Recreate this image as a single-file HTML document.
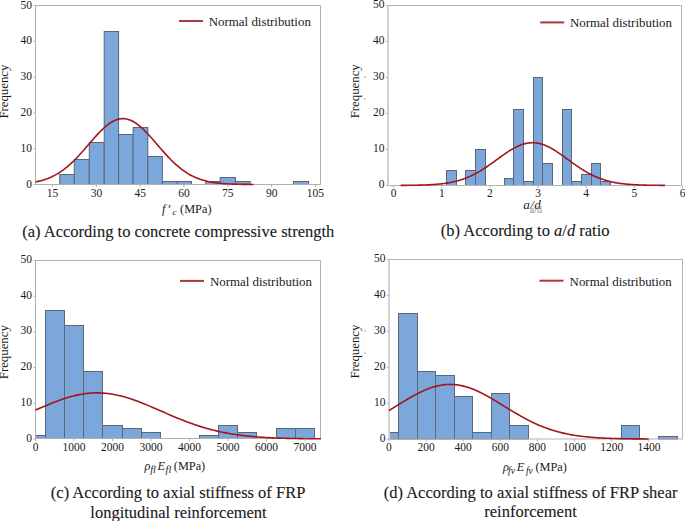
<!DOCTYPE html>
<html><head><meta charset="utf-8"><style>
html,body{margin:0;padding:0;background:#fff;}
body{width:685px;height:521px;overflow:hidden;}
svg{display:block;}
text{font-family:"Liberation Serif", serif;fill:#1a1a1a;}
.cap{stroke:#1a1a1a;stroke-width:0.12px;}
</style></head><body>
<svg width="685" height="521" viewBox="0 0 685 521">
<rect width="685" height="521" fill="#fff"/>
<rect x="59.70" y="174.50" width="14.60" height="10.00" fill="#7ba7da" stroke="#5a6679" stroke-width="1"/>
<rect x="74.30" y="159.50" width="15.00" height="25.00" fill="#7ba7da" stroke="#5a6679" stroke-width="1"/>
<rect x="89.30" y="142.50" width="14.90" height="42.00" fill="#7ba7da" stroke="#5a6679" stroke-width="1"/>
<rect x="104.20" y="31.50" width="14.40" height="153.00" fill="#7ba7da" stroke="#5a6679" stroke-width="1"/>
<rect x="118.60" y="134.50" width="14.50" height="50.00" fill="#7ba7da" stroke="#5a6679" stroke-width="1"/>
<rect x="133.10" y="127.50" width="14.75" height="57.00" fill="#7ba7da" stroke="#5a6679" stroke-width="1"/>
<rect x="147.85" y="156.50" width="14.55" height="28.00" fill="#7ba7da" stroke="#5a6679" stroke-width="1"/>
<rect x="162.40" y="181.50" width="15.00" height="3.00" fill="#7ba7da" stroke="#5a6679" stroke-width="1"/>
<rect x="177.40" y="181.50" width="14.00" height="3.00" fill="#7ba7da" stroke="#5a6679" stroke-width="1"/>
<rect x="205.80" y="181.50" width="14.40" height="3.00" fill="#7ba7da" stroke="#5a6679" stroke-width="1"/>
<rect x="220.20" y="177.50" width="15.30" height="7.00" fill="#7ba7da" stroke="#5a6679" stroke-width="1"/>
<rect x="235.50" y="181.50" width="14.70" height="3.00" fill="#7ba7da" stroke="#5a6679" stroke-width="1"/>
<rect x="293.40" y="181.50" width="15.20" height="3.00" fill="#7ba7da" stroke="#5a6679" stroke-width="1"/>
<path d="M35.5,5.5H320.5V184.5H35.5" fill="none" stroke="#b0b0b0" stroke-width="1"/>
<line x1="35.5" y1="5.5" x2="35.5" y2="184.5" stroke="#b0b0b0" stroke-width="1"/>
<polyline points="35.50,181.92 36.41,181.74 37.32,181.55 38.23,181.35 39.13,181.14 40.04,180.92 40.95,180.69 41.86,180.44 42.77,180.18 43.67,179.91 44.58,179.62 45.49,179.32 46.40,179.00 47.31,178.67 48.22,178.32 49.12,177.95 50.03,177.57 50.94,177.18 51.85,176.76 52.76,176.33 53.67,175.88 54.57,175.41 55.48,174.92 56.39,174.41 57.30,173.89 58.21,173.34 59.12,172.77 60.03,172.19 60.93,171.58 61.84,170.95 62.75,170.30 63.66,169.63 64.57,168.95 65.47,168.24 66.38,167.51 67.29,166.76 68.20,165.98 69.11,165.19 70.02,164.38 70.92,163.55 71.83,162.71 72.74,161.84 73.65,160.95 74.56,160.05 75.47,159.13 76.38,158.20 77.28,157.25 78.19,156.28 79.10,155.30 80.01,154.31 80.92,153.31 81.83,152.29 82.73,151.27 83.64,150.23 84.55,149.19 85.46,148.15 86.37,147.10 87.28,146.04 88.18,144.98 89.09,143.93 90.00,142.87 90.91,141.82 91.82,140.77 92.72,139.72 93.63,138.69 94.54,137.66 95.45,136.64 96.36,135.63 97.27,134.64 98.18,133.66 99.08,132.70 99.99,131.76 100.90,130.84 101.81,129.95 102.72,129.07 103.62,128.22 104.53,127.40 105.44,126.61 106.35,125.84 107.26,125.11 108.17,124.41 109.08,123.75 109.98,123.12 110.89,122.53 111.80,121.98 112.71,121.46 113.62,120.99 114.53,120.55 115.43,120.16 116.34,119.82 117.25,119.51 118.16,119.25 119.07,119.04 119.98,118.87 120.88,118.74 121.79,118.67 122.70,118.63 123.61,118.65 124.52,118.71 125.42,118.81 126.33,118.96 127.24,119.16 128.15,119.40 129.06,119.69 129.97,120.02 130.88,120.40 131.78,120.81 132.69,121.27 133.60,121.77 134.51,122.31 135.42,122.88 136.32,123.50 137.23,124.15 138.14,124.83 139.05,125.55 139.96,126.30 140.87,127.08 141.77,127.89 142.68,128.73 143.59,129.60 144.50,130.49 145.41,131.40 146.32,132.33 147.22,133.28 148.13,134.25 149.04,135.24 149.95,136.24 150.86,137.25 151.77,138.28 152.67,139.31 153.58,140.35 154.49,141.40 155.40,142.45 156.31,143.51 157.22,144.57 158.12,145.62 159.03,146.68 159.94,147.73 160.85,148.78 161.76,149.82 162.67,150.86 163.57,151.89 164.48,152.91 165.39,153.91 166.30,154.91 167.21,155.90 168.12,156.87 169.03,157.82 169.93,158.76 170.84,159.69 171.75,160.60 172.66,161.49 173.57,162.37 174.47,163.22 175.38,164.06 176.29,164.88 177.20,165.67 178.11,166.45 179.02,167.21 179.93,167.95 180.83,168.67 181.74,169.37 182.65,170.04 183.56,170.70 184.47,171.33 185.38,171.95 186.28,172.54 187.19,173.12 188.10,173.67 189.01,174.21 189.92,174.72 190.83,175.22 191.73,175.69 192.64,176.15 193.55,176.59 194.46,177.01 195.37,177.42 196.27,177.81 197.18,178.18 198.09,178.53 199.00,178.87 199.91,179.19 200.82,179.50 201.72,179.79 202.63,180.07 203.54,180.34 204.45,180.59 205.36,180.83 206.27,181.06 207.17,181.27 208.08,181.48 208.99,181.67 209.90,181.85 210.81,182.03 211.72,182.19 212.62,182.34 213.53,182.49 214.44,182.62 215.35,182.75 216.26,182.87 217.17,182.99 218.07,183.09 218.98,183.19 219.89,183.29 220.80,183.38 221.71,183.46 222.62,183.53 223.53,183.61 224.43,183.67 225.34,183.74 226.25,183.79 227.16,183.85 228.07,183.90 228.97,183.95 229.88,183.99 230.79,184.03 231.70,184.07 232.61,184.10 233.52,184.14 234.43,184.16 235.33,184.19 236.24,184.22 237.15,184.24 238.06,184.26 238.97,184.28 239.88,184.30 240.78,184.32 241.69,184.34 242.60,184.35 243.51,184.36 244.42,184.38 245.33,184.39 246.23,184.40 247.14,184.41 248.05,184.41 248.96,184.42 249.87,184.43 250.78,184.44 251.68,184.44 252.59,184.45 253.50,184.45" fill="none" stroke="#a2161d" stroke-width="1.6" stroke-linejoin="round"/>
<line x1="52.60" y1="184.5" x2="52.60" y2="187.0" stroke="#b0b0b0" stroke-width="1"/>
<text x="52.60" y="196.5" text-anchor="middle" font-size="11.5" fill="#1a1a1a">15</text>
<line x1="96.41" y1="184.5" x2="96.41" y2="187.0" stroke="#b0b0b0" stroke-width="1"/>
<text x="96.41" y="196.5" text-anchor="middle" font-size="11.5" fill="#1a1a1a">30</text>
<line x1="140.23" y1="184.5" x2="140.23" y2="187.0" stroke="#b0b0b0" stroke-width="1"/>
<text x="140.23" y="196.5" text-anchor="middle" font-size="11.5" fill="#1a1a1a">45</text>
<line x1="184.04" y1="184.5" x2="184.04" y2="187.0" stroke="#b0b0b0" stroke-width="1"/>
<text x="184.04" y="196.5" text-anchor="middle" font-size="11.5" fill="#1a1a1a">60</text>
<line x1="227.86" y1="184.5" x2="227.86" y2="187.0" stroke="#b0b0b0" stroke-width="1"/>
<text x="227.86" y="196.5" text-anchor="middle" font-size="11.5" fill="#1a1a1a">75</text>
<line x1="271.68" y1="184.5" x2="271.68" y2="187.0" stroke="#b0b0b0" stroke-width="1"/>
<text x="271.68" y="196.5" text-anchor="middle" font-size="11.5" fill="#1a1a1a">90</text>
<line x1="315.49" y1="184.5" x2="315.49" y2="187.0" stroke="#b0b0b0" stroke-width="1"/>
<text x="315.49" y="196.5" text-anchor="middle" font-size="11.5" fill="#1a1a1a">105</text>
<line x1="33.5" y1="184.50" x2="35.5" y2="184.50" stroke="#b0b0b0" stroke-width="1"/>
<text x="32.1" y="187.50" text-anchor="end" font-size="11.5" fill="#1a1a1a">0</text>
<line x1="33.5" y1="148.70" x2="35.5" y2="148.70" stroke="#b0b0b0" stroke-width="1"/>
<text x="32.1" y="151.70" text-anchor="end" font-size="11.5" fill="#1a1a1a">10</text>
<line x1="33.5" y1="112.90" x2="35.5" y2="112.90" stroke="#b0b0b0" stroke-width="1"/>
<text x="32.1" y="115.90" text-anchor="end" font-size="11.5" fill="#1a1a1a">20</text>
<line x1="33.5" y1="77.10" x2="35.5" y2="77.10" stroke="#b0b0b0" stroke-width="1"/>
<text x="32.1" y="80.10" text-anchor="end" font-size="11.5" fill="#1a1a1a">30</text>
<line x1="33.5" y1="41.30" x2="35.5" y2="41.30" stroke="#b0b0b0" stroke-width="1"/>
<text x="32.1" y="44.30" text-anchor="end" font-size="11.5" fill="#1a1a1a">40</text>
<line x1="33.5" y1="5.50" x2="35.5" y2="5.50" stroke="#b0b0b0" stroke-width="1"/>
<text x="32.1" y="8.50" text-anchor="end" font-size="11.5" fill="#1a1a1a">50</text>
<line x1="179.0" y1="21.0" x2="203.0" y2="21.0" stroke="#a63a3e" stroke-width="2"/>
<text x="208.8" y="26.0" font-size="12.9">Normal distribution</text>
<text transform="translate(7.7,91.6) rotate(-90)" text-anchor="middle" font-size="12.8">Frequency</text>
<rect x="446.50" y="170.50" width="10.00" height="15.00" fill="#7ba7da" stroke="#5a6679" stroke-width="1"/>
<rect x="465.50" y="170.50" width="10.00" height="15.00" fill="#7ba7da" stroke="#5a6679" stroke-width="1"/>
<rect x="475.50" y="149.50" width="10.00" height="36.00" fill="#7ba7da" stroke="#5a6679" stroke-width="1"/>
<rect x="504.50" y="178.50" width="9.00" height="7.00" fill="#7ba7da" stroke="#5a6679" stroke-width="1"/>
<rect x="513.50" y="109.50" width="10.00" height="76.00" fill="#7ba7da" stroke="#5a6679" stroke-width="1"/>
<rect x="523.50" y="181.50" width="10.00" height="4.00" fill="#7ba7da" stroke="#5a6679" stroke-width="1"/>
<rect x="533.50" y="77.50" width="9.00" height="108.00" fill="#7ba7da" stroke="#5a6679" stroke-width="1"/>
<rect x="542.50" y="163.50" width="10.00" height="22.00" fill="#7ba7da" stroke="#5a6679" stroke-width="1"/>
<rect x="562.50" y="109.50" width="9.00" height="76.00" fill="#7ba7da" stroke="#5a6679" stroke-width="1"/>
<rect x="571.50" y="181.50" width="10.00" height="4.00" fill="#7ba7da" stroke="#5a6679" stroke-width="1"/>
<rect x="581.50" y="174.50" width="10.00" height="11.00" fill="#7ba7da" stroke="#5a6679" stroke-width="1"/>
<rect x="591.50" y="163.50" width="9.00" height="22.00" fill="#7ba7da" stroke="#5a6679" stroke-width="1"/>
<rect x="600.50" y="181.50" width="10.00" height="4.00" fill="#7ba7da" stroke="#5a6679" stroke-width="1"/>
<path d="M388,5.5H681.5V185.5H388" fill="none" stroke="#b4b4b4" stroke-width="1"/>
<line x1="388" y1="5.5" x2="388" y2="185.5" stroke="#d2d2d2" stroke-width="2"/>
<polyline points="400.60,185.36 401.70,185.35 402.80,185.35 403.91,185.34 405.01,185.33 406.11,185.33 407.21,185.32 408.31,185.31 409.41,185.30 410.52,185.29 411.62,185.27 412.72,185.26 413.82,185.24 414.92,185.23 416.02,185.21 417.12,185.19 418.23,185.16 419.33,185.14 420.43,185.11 421.53,185.08 422.63,185.05 423.74,185.01 424.84,184.98 425.94,184.93 427.04,184.89 428.14,184.84 429.24,184.79 430.35,184.73 431.45,184.67 432.55,184.60 433.65,184.53 434.75,184.45 435.85,184.36 436.96,184.27 438.06,184.17 439.16,184.07 440.26,183.95 441.36,183.83 442.46,183.70 443.56,183.56 444.67,183.42 445.77,183.26 446.87,183.09 447.97,182.91 449.07,182.72 450.18,182.52 451.28,182.31 452.38,182.08 453.48,181.84 454.58,181.58 455.68,181.32 456.79,181.03 457.89,180.74 458.99,180.42 460.09,180.10 461.19,179.75 462.29,179.39 463.39,179.01 464.50,178.62 465.60,178.20 466.70,177.77 467.80,177.32 468.90,176.85 470.00,176.37 471.11,175.86 472.21,175.34 473.31,174.80 474.41,174.24 475.51,173.66 476.62,173.07 477.72,172.46 478.82,171.83 479.92,171.18 481.02,170.52 482.12,169.84 483.23,169.14 484.33,168.43 485.43,167.71 486.53,166.97 487.63,166.22 488.73,165.46 489.84,164.69 490.94,163.92 492.04,163.13 493.14,162.34 494.24,161.54 495.34,160.74 496.44,159.93 497.55,159.13 498.65,158.32 499.75,157.52 500.85,156.73 501.95,155.93 503.06,155.15 504.16,154.37 505.26,153.61 506.36,152.86 507.46,152.12 508.56,151.40 509.67,150.69 510.77,150.01 511.87,149.35 512.97,148.71 514.07,148.09 515.17,147.50 516.27,146.94 517.38,146.41 518.48,145.91 519.58,145.44 520.68,145.01 521.78,144.61 522.88,144.24 523.99,143.92 525.09,143.63 526.19,143.38 527.29,143.17 528.39,142.99 529.50,142.86 530.60,142.77 531.70,142.72 532.80,142.71 533.90,142.75 535.00,142.82 536.11,142.94 537.21,143.09 538.31,143.29 539.41,143.52 540.51,143.80 541.61,144.11 542.72,144.46 543.82,144.85 544.92,145.27 546.02,145.72 547.12,146.21 548.22,146.73 549.33,147.28 550.43,147.86 551.53,148.46 552.63,149.09 553.73,149.75 554.83,150.42 555.94,151.12 557.04,151.83 558.14,152.57 559.24,153.31 560.34,154.07 561.44,154.84 562.55,155.63 563.65,156.41 564.75,157.21 565.85,158.01 566.95,158.81 568.05,159.62 569.15,160.42 570.26,161.23 571.36,162.03 572.46,162.82 573.56,163.61 574.66,164.39 575.76,165.16 576.87,165.93 577.97,166.68 579.07,167.42 580.17,168.15 581.27,168.87 582.38,169.57 583.48,170.25 584.58,170.92 585.68,171.58 586.78,172.21 587.88,172.83 588.99,173.43 590.09,174.02 591.19,174.58 592.29,175.13 593.39,175.66 594.49,176.17 595.60,176.67 596.70,177.14 597.80,177.60 598.90,178.04 600.00,178.46 601.10,178.86 602.21,179.24 603.31,179.61 604.41,179.96 605.51,180.30 606.61,180.62 607.71,180.92 608.82,181.21 609.92,181.48 611.02,181.74 612.12,181.99 613.22,182.22 614.32,182.44 615.42,182.64 616.53,182.84 617.63,183.02 618.73,183.19 619.83,183.36 620.93,183.51 622.03,183.65 623.14,183.78 624.24,183.91 625.34,184.02 626.44,184.13 627.54,184.23 628.64,184.33 629.75,184.41 630.85,184.49 631.95,184.57 633.05,184.64 634.15,184.70 635.25,184.76 636.36,184.82 637.46,184.87 638.56,184.92 639.66,184.96 640.76,185.00 641.87,185.04 642.97,185.07 644.07,185.10 645.17,185.13 646.27,185.15 647.37,185.18 648.48,185.20 649.58,185.22 650.68,185.24 651.78,185.25 652.88,185.27 653.98,185.28 655.09,185.29 656.19,185.30 657.29,185.31 658.39,185.32 659.49,185.33 660.59,185.34 661.69,185.34 662.80,185.35 663.90,185.36 665.00,185.36" fill="none" stroke="#a2161d" stroke-width="1.6" stroke-linejoin="round"/>
<line x1="393.60" y1="185.5" x2="393.60" y2="188.0" stroke="#b4b4b4" stroke-width="1"/>
<text x="393.60" y="197" text-anchor="middle" font-size="11.5" fill="#262626">0</text>
<line x1="441.75" y1="185.5" x2="441.75" y2="188.0" stroke="#b4b4b4" stroke-width="1"/>
<text x="441.75" y="197" text-anchor="middle" font-size="11.5" fill="#262626">1</text>
<line x1="489.90" y1="185.5" x2="489.90" y2="188.0" stroke="#b4b4b4" stroke-width="1"/>
<text x="489.90" y="197" text-anchor="middle" font-size="11.5" fill="#262626">2</text>
<line x1="538.05" y1="185.5" x2="538.05" y2="188.0" stroke="#b4b4b4" stroke-width="1"/>
<text x="538.05" y="197" text-anchor="middle" font-size="11.5" fill="#262626">3</text>
<line x1="586.20" y1="185.5" x2="586.20" y2="188.0" stroke="#b4b4b4" stroke-width="1"/>
<text x="586.20" y="197" text-anchor="middle" font-size="11.5" fill="#262626">4</text>
<line x1="634.35" y1="185.5" x2="634.35" y2="188.0" stroke="#b4b4b4" stroke-width="1"/>
<text x="634.35" y="197" text-anchor="middle" font-size="11.5" fill="#262626">5</text>
<line x1="682.50" y1="185.5" x2="682.50" y2="188.0" stroke="#b4b4b4" stroke-width="1"/>
<text x="682.50" y="197" text-anchor="middle" font-size="11.5" fill="#262626">6</text>
<line x1="386" y1="185.40" x2="388" y2="185.40" stroke="#b4b4b4" stroke-width="1"/>
<text x="384.6" y="187.70" text-anchor="end" font-size="11.5" fill="#262626">0</text>
<line x1="386" y1="149.44" x2="388" y2="149.44" stroke="#b4b4b4" stroke-width="1"/>
<text x="384.6" y="151.74" text-anchor="end" font-size="11.5" fill="#262626">10</text>
<line x1="386" y1="113.48" x2="388" y2="113.48" stroke="#b4b4b4" stroke-width="1"/>
<text x="384.6" y="115.78" text-anchor="end" font-size="11.5" fill="#262626">20</text>
<line x1="386" y1="77.52" x2="388" y2="77.52" stroke="#b4b4b4" stroke-width="1"/>
<text x="384.6" y="79.82" text-anchor="end" font-size="11.5" fill="#262626">30</text>
<line x1="386" y1="41.56" x2="388" y2="41.56" stroke="#b4b4b4" stroke-width="1"/>
<text x="384.6" y="43.86" text-anchor="end" font-size="11.5" fill="#262626">40</text>
<line x1="386" y1="5.60" x2="388" y2="5.60" stroke="#b4b4b4" stroke-width="1"/>
<text x="384.6" y="7.90" text-anchor="end" font-size="11.5" fill="#262626">50</text>
<line x1="540.2" y1="22.4" x2="564.2" y2="22.4" stroke="#a63a3e" stroke-width="2"/>
<text x="569.9" y="26.7" font-size="12.9">Normal distribution</text>
<text transform="translate(359.4,91.3) rotate(-90)" text-anchor="middle" font-size="12.8">Frequency</text>
<rect x="35.50" y="435.50" width="10.00" height="3.00" fill="#7ba7da" stroke="#5a6679" stroke-width="1"/>
<rect x="45.50" y="310.50" width="19.00" height="128.00" fill="#7ba7da" stroke="#5a6679" stroke-width="1"/>
<rect x="64.50" y="325.50" width="19.00" height="113.00" fill="#7ba7da" stroke="#5a6679" stroke-width="1"/>
<rect x="83.50" y="371.50" width="19.00" height="67.00" fill="#7ba7da" stroke="#5a6679" stroke-width="1"/>
<rect x="102.50" y="425.50" width="20.00" height="13.00" fill="#7ba7da" stroke="#5a6679" stroke-width="1"/>
<rect x="122.50" y="428.50" width="19.00" height="10.00" fill="#7ba7da" stroke="#5a6679" stroke-width="1"/>
<rect x="141.50" y="432.50" width="19.00" height="6.00" fill="#7ba7da" stroke="#5a6679" stroke-width="1"/>
<rect x="199.50" y="435.50" width="19.00" height="3.00" fill="#7ba7da" stroke="#5a6679" stroke-width="1"/>
<rect x="218.50" y="425.50" width="19.00" height="13.00" fill="#7ba7da" stroke="#5a6679" stroke-width="1"/>
<rect x="237.50" y="432.50" width="19.00" height="6.00" fill="#7ba7da" stroke="#5a6679" stroke-width="1"/>
<rect x="276.50" y="428.50" width="19.00" height="10.00" fill="#7ba7da" stroke="#5a6679" stroke-width="1"/>
<rect x="295.50" y="428.50" width="19.00" height="10.00" fill="#7ba7da" stroke="#5a6679" stroke-width="1"/>
<path d="M35.5,260.5H320.5V438.5H35.5" fill="none" stroke="#b0b0b0" stroke-width="1"/>
<line x1="35.5" y1="260.5" x2="35.5" y2="438.5" stroke="#b0b0b0" stroke-width="1"/>
<polyline points="35.50,410.08 36.69,409.56 37.88,409.04 39.07,408.52 40.26,408.01 41.45,407.49 42.64,406.98 43.83,406.47 45.02,405.97 46.21,405.47 47.40,404.97 48.59,404.48 49.77,403.99 50.96,403.51 52.15,403.04 53.34,402.57 54.53,402.10 55.72,401.65 56.91,401.20 58.10,400.76 59.29,400.33 60.48,399.91 61.67,399.49 62.86,399.09 64.05,398.69 65.24,398.31 66.43,397.93 67.62,397.57 68.81,397.22 70.00,396.88 71.19,396.55 72.38,396.23 73.57,395.93 74.76,395.64 75.95,395.36 77.14,395.10 78.32,394.85 79.51,394.61 80.70,394.39 81.89,394.18 83.08,393.99 84.27,393.81 85.46,393.65 86.65,393.50 87.84,393.37 89.03,393.26 90.22,393.15 91.41,393.07 92.60,393.00 93.79,392.95 94.98,392.91 96.17,392.89 97.36,392.88 98.55,392.89 99.74,392.92 100.93,392.96 102.12,393.02 103.31,393.09 104.50,393.18 105.69,393.29 106.88,393.41 108.06,393.55 109.25,393.70 110.44,393.87 111.63,394.05 112.82,394.25 114.01,394.46 115.20,394.68 116.39,394.92 117.58,395.18 118.77,395.45 119.96,395.73 121.15,396.02 122.34,396.33 123.53,396.65 124.72,396.98 125.91,397.32 127.10,397.68 128.29,398.05 129.48,398.42 130.67,398.81 131.86,399.21 133.05,399.62 134.24,400.03 135.43,400.46 136.61,400.89 137.80,401.34 138.99,401.79 140.18,402.25 141.37,402.71 142.56,403.18 143.75,403.66 144.94,404.14 146.13,404.63 147.32,405.12 148.51,405.62 149.70,406.12 150.89,406.63 152.08,407.14 153.27,407.65 154.46,408.16 155.65,408.68 156.84,409.20 158.03,409.72 159.22,410.24 160.41,410.76 161.60,411.28 162.79,411.80 163.97,412.32 165.16,412.84 166.35,413.36 167.54,413.87 168.73,414.39 169.92,414.90 171.11,415.41 172.30,415.92 173.49,416.42 174.68,416.92 175.87,417.42 177.06,417.91 178.25,418.40 179.44,418.88 180.63,419.36 181.82,419.84 183.01,420.31 184.20,420.77 185.39,421.23 186.58,421.68 187.77,422.13 188.96,422.57 190.15,423.01 191.34,423.44 192.53,423.86 193.71,424.28 194.90,424.69 196.09,425.09 197.28,425.49 198.47,425.87 199.66,426.26 200.85,426.63 202.04,427.00 203.23,427.36 204.42,427.72 205.61,428.07 206.80,428.41 207.99,428.74 209.18,429.06 210.37,429.38 211.56,429.69 212.75,430.00 213.94,430.30 215.13,430.59 216.32,430.87 217.51,431.15 218.70,431.42 219.89,431.68 221.07,431.94 222.26,432.18 223.45,432.43 224.64,432.66 225.83,432.89 227.02,433.12 228.21,433.33 229.40,433.54 230.59,433.75 231.78,433.95 232.97,434.14 234.16,434.32 235.35,434.50 236.54,434.68 237.73,434.85 238.92,435.01 240.11,435.17 241.30,435.32 242.49,435.47 243.68,435.62 244.87,435.75 246.06,435.89 247.25,436.02 248.44,436.14 249.62,436.26 250.81,436.38 252.00,436.49 253.19,436.60 254.38,436.70 255.57,436.80 256.76,436.89 257.95,436.99 259.14,437.07 260.33,437.16 261.52,437.24 262.71,437.32 263.90,437.39 265.09,437.47 266.28,437.53 267.47,437.60 268.66,437.66 269.85,437.72 271.04,437.78 272.23,437.84 273.42,437.89 274.61,437.94 275.80,437.99 276.99,438.04 278.18,438.08 279.36,438.12 280.55,438.16 281.74,438.20 282.93,438.24 284.12,438.27 285.31,438.31 286.50,438.34 287.69,438.37 288.88,438.40 290.07,438.43 291.26,438.45 292.45,438.48 293.64,438.50 294.83,438.52 296.02,438.54 297.21,438.56 298.40,438.58 299.59,438.60 300.78,438.62 301.97,438.64 303.16,438.65 304.35,438.67 305.54,438.68 306.73,438.69 307.91,438.70 309.10,438.72 310.29,438.73 311.48,438.74 312.67,438.75 313.86,438.76 315.05,438.77 316.24,438.77 317.43,438.78 318.62,438.79 319.81,438.80 321.00,438.80" fill="none" stroke="#a2161d" stroke-width="1.6" stroke-linejoin="round"/>
<line x1="35.50" y1="438.5" x2="35.50" y2="441.0" stroke="#b0b0b0" stroke-width="1"/>
<text x="35.50" y="450.8" text-anchor="middle" font-size="11.5" fill="#1a1a1a">0</text>
<line x1="74.00" y1="438.5" x2="74.00" y2="441.0" stroke="#b0b0b0" stroke-width="1"/>
<text x="74.00" y="450.8" text-anchor="middle" font-size="11.5" fill="#1a1a1a">1000</text>
<line x1="112.50" y1="438.5" x2="112.50" y2="441.0" stroke="#b0b0b0" stroke-width="1"/>
<text x="112.50" y="450.8" text-anchor="middle" font-size="11.5" fill="#1a1a1a">2000</text>
<line x1="151.00" y1="438.5" x2="151.00" y2="441.0" stroke="#b0b0b0" stroke-width="1"/>
<text x="151.00" y="450.8" text-anchor="middle" font-size="11.5" fill="#1a1a1a">3000</text>
<line x1="189.50" y1="438.5" x2="189.50" y2="441.0" stroke="#b0b0b0" stroke-width="1"/>
<text x="189.50" y="450.8" text-anchor="middle" font-size="11.5" fill="#1a1a1a">4000</text>
<line x1="228.00" y1="438.5" x2="228.00" y2="441.0" stroke="#b0b0b0" stroke-width="1"/>
<text x="228.00" y="450.8" text-anchor="middle" font-size="11.5" fill="#1a1a1a">5000</text>
<line x1="266.50" y1="438.5" x2="266.50" y2="441.0" stroke="#b0b0b0" stroke-width="1"/>
<text x="266.50" y="450.8" text-anchor="middle" font-size="11.5" fill="#1a1a1a">6000</text>
<line x1="305.00" y1="438.5" x2="305.00" y2="441.0" stroke="#b0b0b0" stroke-width="1"/>
<text x="305.00" y="450.8" text-anchor="middle" font-size="11.5" fill="#1a1a1a">7000</text>
<line x1="33.5" y1="438.90" x2="35.5" y2="438.90" stroke="#b0b0b0" stroke-width="1"/>
<text x="32.1" y="441.50" text-anchor="end" font-size="11.5" fill="#1a1a1a">0</text>
<line x1="33.5" y1="403.22" x2="35.5" y2="403.22" stroke="#b0b0b0" stroke-width="1"/>
<text x="32.1" y="405.82" text-anchor="end" font-size="11.5" fill="#1a1a1a">10</text>
<line x1="33.5" y1="367.54" x2="35.5" y2="367.54" stroke="#b0b0b0" stroke-width="1"/>
<text x="32.1" y="370.14" text-anchor="end" font-size="11.5" fill="#1a1a1a">20</text>
<line x1="33.5" y1="331.86" x2="35.5" y2="331.86" stroke="#b0b0b0" stroke-width="1"/>
<text x="32.1" y="334.46" text-anchor="end" font-size="11.5" fill="#1a1a1a">30</text>
<line x1="33.5" y1="296.18" x2="35.5" y2="296.18" stroke="#b0b0b0" stroke-width="1"/>
<text x="32.1" y="298.78" text-anchor="end" font-size="11.5" fill="#1a1a1a">40</text>
<line x1="33.5" y1="260.50" x2="35.5" y2="260.50" stroke="#b0b0b0" stroke-width="1"/>
<text x="32.1" y="263.10" text-anchor="end" font-size="11.5" fill="#1a1a1a">50</text>
<line x1="180.0" y1="280.9" x2="204.0" y2="280.9" stroke="#a63a3e" stroke-width="2"/>
<text x="209.9" y="285.7" font-size="12.9">Normal distribution</text>
<text transform="translate(7.7,352.2) rotate(-90)" text-anchor="middle" font-size="12.8">Frequency</text>
<rect x="389.50" y="432.50" width="9.00" height="6.50" fill="#7ba7da" stroke="#5a6679" stroke-width="1"/>
<rect x="398.50" y="313.50" width="19.00" height="125.50" fill="#7ba7da" stroke="#5a6679" stroke-width="1"/>
<rect x="417.50" y="371.50" width="18.00" height="67.50" fill="#7ba7da" stroke="#5a6679" stroke-width="1"/>
<rect x="435.50" y="375.50" width="19.00" height="63.50" fill="#7ba7da" stroke="#5a6679" stroke-width="1"/>
<rect x="454.50" y="396.50" width="18.00" height="42.50" fill="#7ba7da" stroke="#5a6679" stroke-width="1"/>
<rect x="472.50" y="432.50" width="19.00" height="6.50" fill="#7ba7da" stroke="#5a6679" stroke-width="1"/>
<rect x="491.50" y="393.50" width="18.00" height="45.50" fill="#7ba7da" stroke="#5a6679" stroke-width="1"/>
<rect x="509.50" y="425.50" width="19.00" height="13.50" fill="#7ba7da" stroke="#5a6679" stroke-width="1"/>
<rect x="621.50" y="425.50" width="18.00" height="13.50" fill="#7ba7da" stroke="#5a6679" stroke-width="1"/>
<rect x="658.50" y="436.50" width="19.00" height="2.50" fill="#7ba7da" stroke="#5a6679" stroke-width="1"/>
<path d="M388.5,259.5H682.5V439H388.5" fill="none" stroke="#b4b4b4" stroke-width="1"/>
<line x1="389" y1="259.5" x2="389" y2="439" stroke="#d4d4d4" stroke-width="2"/>
<polyline points="388.90,410.54 389.98,409.88 391.07,409.22 392.15,408.56 393.23,407.89 394.32,407.23 395.40,406.56 396.48,405.89 397.57,405.22 398.65,404.55 399.73,403.88 400.82,403.22 401.90,402.56 402.98,401.89 404.07,401.24 405.15,400.59 406.23,399.94 407.32,399.29 408.40,398.66 409.48,398.03 410.56,397.40 411.65,396.79 412.73,396.18 413.81,395.58 414.90,394.99 415.98,394.41 417.06,393.85 418.15,393.29 419.23,392.75 420.31,392.22 421.40,391.70 422.48,391.19 423.56,390.70 424.65,390.23 425.73,389.77 426.81,389.32 427.90,388.90 428.98,388.49 430.06,388.09 431.15,387.72 432.23,387.36 433.31,387.02 434.40,386.70 435.48,386.40 436.56,386.12 437.65,385.86 438.73,385.63 439.81,385.41 440.90,385.21 441.98,385.04 443.06,384.88 444.15,384.75 445.23,384.64 446.31,384.55 447.40,384.48 448.48,384.44 449.56,384.42 450.65,384.42 451.73,384.44 452.81,384.48 453.89,384.55 454.98,384.64 456.06,384.75 457.14,384.89 458.23,385.04 459.31,385.22 460.39,385.41 461.48,385.63 462.56,385.87 463.64,386.13 464.73,386.41 465.81,386.71 466.89,387.03 467.98,387.37 469.06,387.73 470.14,388.10 471.23,388.50 472.31,388.91 473.39,389.34 474.48,389.78 475.56,390.24 476.64,390.72 477.73,391.21 478.81,391.71 479.89,392.23 480.98,392.76 482.06,393.31 483.14,393.86 484.23,394.43 485.31,395.01 486.39,395.60 487.48,396.20 488.56,396.80 489.64,397.42 490.73,398.04 491.81,398.67 492.89,399.31 493.98,399.96 495.06,400.60 496.14,401.26 497.22,401.91 498.31,402.57 499.39,403.24 500.47,403.90 501.56,404.57 502.64,405.24 503.72,405.91 504.81,406.58 505.89,407.24 506.97,407.91 508.06,408.58 509.14,409.24 510.22,409.90 511.31,410.56 512.39,411.21 513.47,411.86 514.56,412.51 515.64,413.15 516.72,413.79 517.81,414.42 518.89,415.04 519.97,415.66 521.06,416.27 522.14,416.88 523.22,417.47 524.31,418.06 525.39,418.64 526.47,419.22 527.56,419.78 528.64,420.34 529.72,420.89 530.81,421.43 531.89,421.96 532.97,422.48 534.06,422.99 535.14,423.49 536.22,423.98 537.31,424.47 538.39,424.94 539.47,425.40 540.55,425.86 541.64,426.30 542.72,426.73 543.80,427.16 544.89,427.57 545.97,427.97 547.05,428.37 548.14,428.75 549.22,429.12 550.30,429.49 551.39,429.84 552.47,430.19 553.55,430.52 554.64,430.85 555.72,431.16 556.80,431.47 557.89,431.77 558.97,432.06 560.05,432.34 561.14,432.61 562.22,432.87 563.30,433.13 564.39,433.38 565.47,433.61 566.55,433.84 567.64,434.07 568.72,434.28 569.80,434.49 570.89,434.69 571.97,434.88 573.05,435.07 574.14,435.25 575.22,435.42 576.30,435.58 577.39,435.74 578.47,435.90 579.55,436.04 580.64,436.18 581.72,436.32 582.80,436.45 583.88,436.58 584.97,436.70 586.05,436.81 587.13,436.92 588.22,437.02 589.30,437.13 590.38,437.22 591.47,437.31 592.55,437.40 593.63,437.49 594.72,437.57 595.80,437.64 596.88,437.71 597.97,437.78 599.05,437.85 600.13,437.91 601.22,437.97 602.30,438.03 603.38,438.08 604.47,438.14 605.55,438.19 606.63,438.23 607.72,438.28 608.80,438.32 609.88,438.36 610.97,438.40 612.05,438.43 613.13,438.46 614.22,438.50 615.30,438.53 616.38,438.56 617.47,438.58 618.55,438.61 619.63,438.63 620.72,438.66 621.80,438.68 622.88,438.70 623.97,438.72 625.05,438.73 626.13,438.75 627.21,438.77 628.30,438.78 629.38,438.80 630.46,438.81 631.55,438.82 632.63,438.83 633.71,438.85 634.80,438.86 635.88,438.87 636.96,438.87 638.05,438.88 639.13,438.89 640.21,438.90 641.30,438.91 642.38,438.91 643.46,438.92 644.55,438.92 645.63,438.93 646.71,438.93 647.80,438.94 648.88,438.94" fill="none" stroke="#a2161d" stroke-width="1.6" stroke-linejoin="round"/>
<line x1="388.90" y1="439" x2="388.90" y2="441.5" stroke="#b4b4b4" stroke-width="1"/>
<text x="388.90" y="451" text-anchor="middle" font-size="11.5" fill="#262626">0</text>
<line x1="426.04" y1="439" x2="426.04" y2="441.5" stroke="#b4b4b4" stroke-width="1"/>
<text x="426.04" y="451" text-anchor="middle" font-size="11.5" fill="#262626">200</text>
<line x1="463.18" y1="439" x2="463.18" y2="441.5" stroke="#b4b4b4" stroke-width="1"/>
<text x="463.18" y="451" text-anchor="middle" font-size="11.5" fill="#262626">400</text>
<line x1="500.32" y1="439" x2="500.32" y2="441.5" stroke="#b4b4b4" stroke-width="1"/>
<text x="500.32" y="451" text-anchor="middle" font-size="11.5" fill="#262626">600</text>
<line x1="537.46" y1="439" x2="537.46" y2="441.5" stroke="#b4b4b4" stroke-width="1"/>
<text x="537.46" y="451" text-anchor="middle" font-size="11.5" fill="#262626">800</text>
<line x1="574.60" y1="439" x2="574.60" y2="441.5" stroke="#b4b4b4" stroke-width="1"/>
<text x="574.60" y="451" text-anchor="middle" font-size="11.5" fill="#262626">1000</text>
<line x1="611.74" y1="439" x2="611.74" y2="441.5" stroke="#b4b4b4" stroke-width="1"/>
<text x="611.74" y="451" text-anchor="middle" font-size="11.5" fill="#262626">1200</text>
<line x1="648.88" y1="439" x2="648.88" y2="441.5" stroke="#b4b4b4" stroke-width="1"/>
<text x="648.88" y="451" text-anchor="middle" font-size="11.5" fill="#262626">1400</text>
<line x1="386.5" y1="439.00" x2="388.5" y2="439.00" stroke="#b4b4b4" stroke-width="1"/>
<text x="385.5" y="442.00" text-anchor="end" font-size="11.5" fill="#262626">0</text>
<line x1="386.5" y1="403.06" x2="388.5" y2="403.06" stroke="#b4b4b4" stroke-width="1"/>
<text x="385.5" y="406.06" text-anchor="end" font-size="11.5" fill="#262626">10</text>
<line x1="386.5" y1="367.12" x2="388.5" y2="367.12" stroke="#b4b4b4" stroke-width="1"/>
<text x="385.5" y="370.12" text-anchor="end" font-size="11.5" fill="#262626">20</text>
<line x1="386.5" y1="331.18" x2="388.5" y2="331.18" stroke="#b4b4b4" stroke-width="1"/>
<text x="385.5" y="334.18" text-anchor="end" font-size="11.5" fill="#262626">30</text>
<line x1="386.5" y1="295.24" x2="388.5" y2="295.24" stroke="#b4b4b4" stroke-width="1"/>
<text x="385.5" y="298.24" text-anchor="end" font-size="11.5" fill="#262626">40</text>
<line x1="386.5" y1="259.30" x2="388.5" y2="259.30" stroke="#b4b4b4" stroke-width="1"/>
<text x="385.5" y="262.30" text-anchor="end" font-size="11.5" fill="#262626">50</text>
<line x1="539.5" y1="280.7" x2="563.5" y2="280.7" stroke="#a63a3e" stroke-width="2"/>
<text x="569.6" y="285.7" font-size="12.9">Normal distribution</text>
<text transform="translate(359.4,351.6) rotate(-90)" text-anchor="middle" font-size="12.8">Frequency</text>
<text x="162" y="212.7" font-size="12.3" font-style="italic">f’</text>
<text x="172.6" y="215.3" font-size="9.2" font-style="italic">c</text>
<text x="180.1" y="212.7" font-size="12.3">(MPa)</text>
<text letter-spacing="0.4" x="523.2" y="209" font-size="13.2" font-style="italic">a/d</text>
<text x="529.8" y="212.5" font-size="10" style="fill:#9a9a9a;stroke:#9a9a9a;stroke-width:0.1px">a/d</text>
<text x="144.4" y="469.9" font-size="12.3" font-style="italic">ρ</text>
<text x="150.2" y="473.4" font-size="10.3" font-style="italic">fl</text>
<text x="157.6" y="469.9" font-size="12.3" font-style="italic">E</text>
<text x="165.6" y="473.4" font-size="10.3" font-style="italic">fl</text>
<text x="173.8" y="469.7" font-size="12.3">(MPa)</text>
<text x="502.9" y="470.7" font-size="12.3" font-style="italic">ρ</text>
<text x="508.0" y="474.0" font-size="9.6" font-style="italic">fv</text>
<text x="516.8" y="470.7" font-size="12.3" font-style="italic">E</text>
<text x="525.9" y="474.0" font-size="9.6" font-style="italic">fv</text>
<text x="535.4" y="470.5" font-size="12.3">(MPa)</text>
<rect x="364.2" y="76.3" width="1.1" height="1.4" fill="#8c8c8c"/>
<rect x="364.2" y="98.3" width="1.1" height="1.4" fill="#8c8c8c"/>
<rect x="364.6" y="330.2" width="1.1" height="1.4" fill="#8c8c8c"/>
<rect x="364.6" y="352.4" width="1.1" height="1.4" fill="#8c8c8c"/>
<line x1="363.5" y1="331.5" x2="363.5" y2="370.5" stroke="#e6e6e6" stroke-width="0.8" stroke-dasharray="1,1.5"/>
<text x="178.3" y="236.6" text-anchor="middle" class="cap" font-size="16.5">(a) According to concrete compressive strength</text>
<text x="525.2" y="236.1" text-anchor="middle" class="cap" font-size="16.5">(b) According to <tspan font-style="italic">a</tspan>/<tspan font-style="italic">d</tspan> ratio</text>
<text x="178.1" y="498.4" text-anchor="middle" class="cap" font-size="16.5">(c) According to axial stiffness of FRP</text>
<text x="178.5" y="517.8" text-anchor="middle" class="cap" font-size="16.5">longitudinal reinforcement</text>
<text x="530.6" y="497.9" text-anchor="middle" class="cap" font-size="16.5">(d) According to axial stiffness of FRP shear</text>
<text x="530.5" y="517.1" text-anchor="middle" class="cap" font-size="16.5">reinforcement</text>
</svg>
</body></html>
